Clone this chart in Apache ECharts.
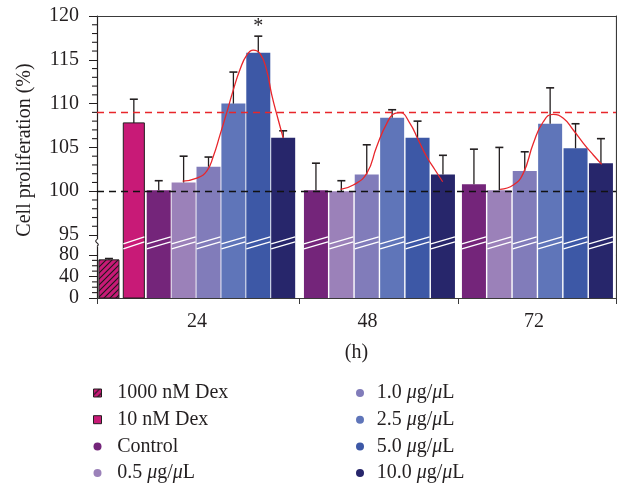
<!DOCTYPE html>
<html>
<head>
<meta charset="utf-8">
<script src="https://cdn.jsdelivr.net/npm/echarts@6.0.0/dist/echarts.min.js"></script>
<style>
  html, body { margin: 0; padding: 0; background: #fff; }
  #chart { width: 617px; height: 485px; }
</style>
</head>
<body>
<div id="chart"></div>
<script>
// ---- data ----
const hours = ['24', '48', '72'];
const treatments = ['1000 nM Dex', '10 nM Dex', 'Control', '0.5 μg/μL',
                    '1.0 μg/μL', '2.5 μg/μL', '5.0 μg/μL', '10.0 μg/μL'];

const dex1000    = [71, null, null];
const dex1000Err = [2.4, null, null];
const dex10      = [107.8, null, null];
const dex10Err   = [2.7, null, null];
const control    = [100.1, 100.1, 100.8];
const controlErr = [1.1, 3.1, 4.0];
const dose05     = [101.0, 100.0, 100.1];
const dose05Err  = [3.0, 1.2, 4.9];
const dose10     = [102.8, 101.9, 102.3];
const dose10Err  = [1.1, 3.4, 2.2];
const dose25     = [110.0, 108.4, 107.7];
const dose25Err  = [3.6, 0.9, 4.1];
const dose50     = [115.8, 106.1, 104.9];
const dose50Err  = [1.9, 1.9, 2.8];
const dose100    = [106.1, 101.9, 103.2];
const dose100Err = [0.8, 2.2, 2.8];
const dose50Sig  = ['*', '', ''];

const refControl = 100;
const refDex10 = 109;
const upperTicks = [95, 100, 105, 110, 115, 120];
const lowerMinorTicks = [10, 20, 30, 50, 60, 70];

// fitted red curves, [x slot, %]
const fit24 = [[3.37, 101.16], [3.93, 101.5], [4.32, 102.3], [4.58, 104.0], [4.84, 106.4],
               [5.11, 109.0], [5.37, 111.6], [5.63, 113.9], [5.89, 115.5], [6.15, 116.1],
               [6.42, 115.7], [6.68, 113.8], [6.88, 111.0], [7.14, 108.1], [7.33, 106.1]];
const fit48 = [[9.59, 100.22], [10.09, 100.71], [10.62, 102.04], [11.01, 105.08], [11.41, 107.75],
               [11.73, 108.89], [11.93, 108.96], [12.32, 107.75], [12.65, 105.84], [12.98, 103.94],
               [13.31, 102.42], [13.61, 101.08]];
const fit72 = [[15.87, 100.22], [16.39, 100.71], [16.78, 102.04], [17.18, 105.47], [17.57, 107.93],
               [17.96, 108.78], [18.36, 108.32], [18.75, 106.99], [19.15, 105.47], [19.54, 104.13],
               [19.87, 103.07]];

const values = [dex1000, dex10, control, dose05, dose10, dose25, dose50, dose100];
const errors = [dex1000Err, dex10Err, controlErr, dose05Err, dose10Err, dose25Err, dose50Err, dose100Err];
const marks  = [null, null, null, null, null, null, dose50Sig, null];

// ---- layout ----
const X_MAX = 20.433;
const groupEdges = [0, 7.97, 14.22, X_MAX];
const hourLabelAt = [3.94, 10.65, 17.2];
const firstSlot = [0.47, 8.62, 14.84];
const slotPitch = [0.98, 1, 1];
const UPPER_MIN = 92.72;
const BREAK_AT = 94.1;

const SERIF = '"Liberation Serif", "Times New Roman", serif';
const INK = '#231F20';
const FRAME = '#3a3a3a';
const RED = '#E8262B';

function hatchCanvas() {
  const c = document.createElement('canvas');
  c.width = c.height = 6;
  const ctx = c.getContext('2d');
  ctx.fillStyle = '#C81A77';
  ctx.fillRect(0, 0, 6, 6);
  ctx.strokeStyle = '#1a1a1a';
  ctx.lineWidth = 1.1;
  ctx.beginPath();
  ctx.moveTo(0, 6); ctx.lineTo(6, 0);
  ctx.moveTo(-1, 1); ctx.lineTo(1, -1);
  ctx.moveTo(5, 7); ctx.lineTo(7, 5);
  ctx.stroke();
  return c;
}
const hatch = { image: hatchCanvas(), repeat: 'repeat' };

const barStyle = [
  { fill: hatch, width: 0.79, border: INK },
  { fill: '#C81A77', width: 0.83, border: INK },
  { fill: '#74257A', width: 0.945 },
  { fill: '#9B81B9', width: 0.945 },
  { fill: '#817CBA', width: 0.945 },
  { fill: '#5F75B9', width: 0.945 },
  { fill: '#3D58A6', width: 0.945 },
  { fill: '#27266B', width: 0.945 }
];

function slotX(t, g) {
  const slot = g === 0 ? t : t - 2;
  return firstSlot[g] + slot * slotPitch[g];
}

function barRenderer(t, isUpper) {
  const sty = barStyle[t];
  return function (params, api) {
    const cs = params.coordSys;
    const x = api.value(0), v = api.value(1), err = api.value(2), g = api.value(3);
    const top = api.coord([x, v]);
    const half = api.size([sty.width, 0])[0] / 2;
    const l = top[0] - half, r = top[0] + half;
    const yBot = cs.y + cs.height;
    const clipped = top[1] < cs.y;
    const yTop = clipped ? cs.y : top[1];
    const kids = [];
    const seg = (x1, y1, x2, y2, stroke, lineWidth) =>
      kids.push({ type: 'line', shape: { x1, y1, x2, y2 }, style: { stroke, lineWidth } });

    if (yTop < yBot) {
      kids.push({ type: 'rect', shape: { x: l, y: yTop, width: r - l, height: yBot - yTop },
                  style: { fill: sty.fill } });
      if (sty.border) {
        seg(l, yTop, l, yBot, sty.border, 1);
        seg(r, yTop, r, yBot, sty.border, 1);
        if (!clipped) seg(l, yTop, r, yTop, sty.border, 1);
        if (!isUpper) seg(l, yBot, r, yBot, sty.border, 1);
      }
      if (isUpper) {
        const m = api.coord([x, BREAK_AT])[1];
        [-2.5, 2.5].forEach(d => seg(l, m + d + 3.5, r, m + d - 3.5, '#fff', 1.3));
      }
    }
    if (top[1] >= cs.y && top[1] <= yBot) {
      const capY = api.coord([x, v + err])[1];
      seg(top[0], top[1], top[0], capY, INK, 1.3);
      seg(top[0] - 4, capY, top[0] + 4, capY, INK, 1.6);
      if (marks[t] && marks[t][g]) {
        kids.push({ type: 'text', x: top[0], y: capY - 9,
                    style: { text: marks[t][g], fill: INK, font: '20px ' + SERIF,
                             align: 'center', verticalAlign: 'middle' } });
      }
    }
    return { type: 'group', children: kids };
  };
}

const series = [];
treatments.forEach((name, t) => {
  const data = [];
  hours.forEach((h, g) => {
    if (values[t][g] != null) data.push([slotX(t, g), values[t][g], errors[t][g], g]);
  });
  [true, false].forEach(isUpper => {
    series.push({
      type: 'custom', name,
      xAxisIndex: isUpper ? 1 : 0, yAxisIndex: isUpper ? 0 : 2,
      itemStyle: { color: barStyle[t].fill, borderColor: barStyle[t].border || 'transparent',
                   borderWidth: barStyle[t].border ? 1 : 0 },
      encode: { x: 0, y: 1 },
      silent: true,
      data,
      renderItem: barRenderer(t, isUpper)
    });
  });
});

[fit24, fit48, fit72].forEach((pts, i) => {
  series.push({
    type: 'line', name: 'fit ' + hours[i], xAxisIndex: 1, yAxisIndex: 0,
    data: pts, smooth: 0.5, showSymbol: false, symbol: 'none', silent: true, z: 3,
    lineStyle: { color: RED, width: 1.3 },
    markLine: i === 0 ? {
      silent: true, symbol: ['none', 'none'], label: { show: false }, z: 5,
      lineStyle: { type: [7, 5], width: 1.3 },
      data: [{ yAxis: refControl, lineStyle: { color: '#111' } },
             { yAxis: refDex10, lineStyle: { color: RED } }]
    } : undefined
  });
});

// short minor ticks on the left axis, placed through the axis scale
const upperMinorTicks = [];
for (let v = 96; v < 120; v++) if (v % 5 !== 0) upperMinorTicks.push(v);

function minorTickRenderer(params, api) {
  const p = api.coord([0, api.value(1)]);
  return { type: 'group', children: [
    { type: 'line', shape: { x1: p[0] - 5, y1: p[1], x2: p[0], y2: p[1] },
      style: { stroke: INK, lineWidth: 1.1 } }
  ] };
}
series.push({
  type: 'custom', name: 'upper minor ticks', xAxisIndex: 1, yAxisIndex: 0,
  data: upperMinorTicks.map(v => [0, v]), encode: { x: 0, y: 1 },
  renderItem: minorTickRenderer
});
series.push({
  type: 'custom', name: 'lower minor ticks', xAxisIndex: 0, yAxisIndex: 2,
  data: lowerMinorTicks.map(v => [0, v]), encode: { x: 0, y: 1 },
  renderItem: minorTickRenderer
});

// axis break squiggle on the left axis line
series.push({
  type: 'custom', name: 'break', xAxisIndex: 1, yAxisIndex: 0, silent: true, z: 4,
  data: [[0, BREAK_AT]], encode: { x: 0, y: 1 },
  renderItem: function (params, api) {
    const p = api.coord([0, BREAK_AT]);
    return { type: 'group', children: [
      { type: 'rect', shape: { x: p[0] - 3, y: p[1] - 3.5, width: 6, height: 7 }, style: { fill: '#fff' } },
      { type: 'bezierCurve',
        shape: { x1: p[0], y1: p[1] - 3.5, x2: p[0], y2: p[1] + 3.5,
                 cpx1: p[0] - 4.5, cpy1: p[1] - 0.5, cpx2: p[0] + 4.5, cpy2: p[1] + 0.5 },
        style: { stroke: INK, lineWidth: 1.1, fill: 'none' } }
    ] };
  }
});

const labelFont = { fontFamily: SERIF, fontSize: 20, color: INK };
const hidden = { show: false };
const inkLine = { show: true, onZero: false, lineStyle: { color: INK, width: 1.2 } };
const frameLine = { show: true, onZero: false, lineStyle: { color: FRAME, width: 1.2 } };

const legendText = pad => ({
  fontFamily: SERIF, fontSize: 20, color: INK, lineHeight: 20, padding: [0, 0, 0, pad],
  rich: { i: { fontFamily: SERIF, fontSize: 20, fontStyle: 'italic', color: INK, lineHeight: 20 } }
});
const legendBase = {
  orient: 'vertical', top: 383, padding: 0, itemGap: 6.7, itemWidth: 8, itemHeight: 8,
  selectedMode: false, formatter: n => n.replace(/μ/g, '{i|μ}')
};

const option = {
  animation: false,
  backgroundColor: '#fff',
  textStyle: { fontFamily: SERIF },
  grid: [
    { left: 97, right: 1, top: 16, height: 239, containLabel: false, outerBoundsMode: 'none' },
    { left: 97, right: 1, top: 255, height: 43, containLabel: false, outerBoundsMode: 'none' }
  ],
  xAxis: [
    { type: 'value', gridIndex: 1, position: 'bottom', min: 0, max: X_MAX,
      name: '(h)', nameLocation: 'middle', nameGap: 45, nameTextStyle: labelFont,
      axisLine: frameLine,
      axisTick: { show: true, customValues: groupEdges, length: 6, lineStyle: { color: FRAME } },
      axisLabel: { ...labelFont, margin: 14, customValues: hourLabelAt,
                   formatter: v => {
                     const i = hourLabelAt.findIndex(p => Math.abs(p - v) < 1e-6);
                     return i < 0 ? '' : hours[i];
                   } },
      splitLine: hidden },
    { type: 'value', gridIndex: 0, position: 'top', min: 0, max: X_MAX,
      axisLine: frameLine, axisTick: hidden, axisLabel: hidden, splitLine: hidden }
  ],
  yAxis: [
    { type: 'value', gridIndex: 0, position: 'left', min: UPPER_MIN, max: 120,
      axisLine: inkLine,
      axisTick: { show: true, customValues: upperTicks, length: 8, lineStyle: { color: INK } },
      axisLabel: { ...labelFont, margin: 18, customValues: upperTicks },
      splitLine: hidden },
    { type: 'value', gridIndex: 0, position: 'right', min: 0, max: 1,
      axisLine: frameLine, axisTick: hidden, axisLabel: hidden, splitLine: hidden },
    { type: 'value', gridIndex: 1, position: 'left', min: 0, max: 80, interval: 40,
      axisLine: inkLine,
      axisTick: { show: true, length: 8, lineStyle: { color: INK } },
      axisLabel: { ...labelFont, margin: 18 },
      splitLine: hidden },
    { type: 'value', gridIndex: 1, position: 'right', min: 0, max: 1,
      axisLine: frameLine, axisTick: hidden, axisLabel: hidden, splitLine: hidden }
  ],
  legend: [
    { ...legendBase, left: 93, textStyle: legendText(10.7),
      data: [
        { name: treatments[0], icon: 'rect', itemStyle: { color: hatch, borderColor: INK, borderWidth: 1 } },
        { name: treatments[1], icon: 'rect', itemStyle: { color: '#C81A77', borderColor: INK, borderWidth: 1 } },
        { name: treatments[2], icon: 'circle' },
        { name: treatments[3], icon: 'circle' }
      ] },
    { ...legendBase, left: 356, textStyle: legendText(7.7),
      data: treatments.slice(4).map(name => ({ name, icon: 'circle' })) }
  ],
  graphic: [
    { type: 'text', x: 25, y: 150, rotation: Math.PI / 2, silent: true,
      style: { text: 'Cell proliferation (%)', fill: INK, font: '20px ' + SERIF,
               align: 'center', verticalAlign: 'middle' } }
  ],
  series
};

const chart = echarts.init(document.getElementById('chart'), null, { renderer: 'canvas' });
chart.setOption(option);
</script>
</body>
</html>
